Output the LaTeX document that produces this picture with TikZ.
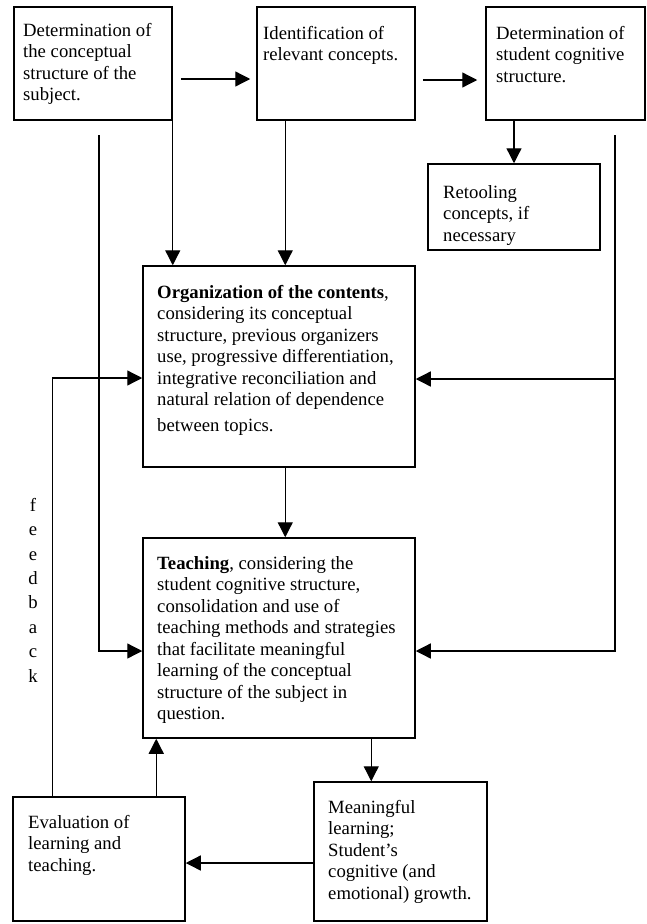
\documentclass[tikz,border=0pt]{standalone}
\usepackage{fontspec}
\setmainfont{Liberation Serif}
\usetikzlibrary{arrows.meta,calc}
\begin{document}
\begin{tikzpicture}[x=1pt,y=-1pt,
  box/.style={draw,line width=1.5pt,rectangle,inner sep=0pt},
  txt/.style={anchor=north west,inner sep=0pt,align=left,font=\fontsize{18.7}{21.5}\selectfont},
  ln/.style={line width=1.3pt},
  arr/.style={line width=1.3pt,-{Triangle[length=15pt,width=15pt]}}]
\useasboundingbox (0,0) rectangle (647,924);
% boxes
\node[box,minimum width=158pt,minimum height=113pt] (b1) at (93,63.5) {};
\node[box,minimum width=158pt,minimum height=113pt] (b2) at (336,63.5) {};
\node[box,minimum width=159pt,minimum height=113pt] (b3) at (565.5,63.5) {};
\node[box,minimum width=172pt,minimum height=86pt] (rt) at (514,207) {};
\node[box,minimum width=272pt,minimum height=201pt] (org) at (279,366.5) {};
\node[box,minimum width=272pt,minimum height=200pt] (tch) at (279,638) {};
\node[box,minimum width=173pt,minimum height=139pt] (mn) at (400.5,851.5) {};
\node[box,minimum width=172pt,minimum height=124pt] (ev) at (99,859) {};
% texts
\node[txt] (b1t) at (23,23) {Determination of\\the conceptual\\structure of the\\subject.};
\node[txt] (b2t) at (263,26) {Identification of\\relevant concepts.};
\node[txt] (b3t) at (496,26) {Determination of\\student cognitive\\structure.};
\node[txt] (rtt) at (443,185) {Retooling\\concepts, if\\necessary};
\node[txt] (orgt) at (157,285) {\textbf{Organization of the contents},\\considering its conceptual\\structure, previous organizers\\use, progressive differentiation,\\integrative reconciliation and\\natural relation of dependence\\[4pt]between topics.};
\node[txt] (tcht) at (157,556) {\textbf{Teaching}, considering the\\student cognitive structure,\\consolidation and use of\\teaching methods and strategies\\that facilitate meaningful\\learning of the conceptual\\structure of the subject in\\question.};
\node[txt] (mnt) at (328,800) {Meaningful\\learning;\\Student’s\\cognitive (and\\emotional) growth.};
\node[txt] (evt) at (28,815) {Evaluation of\\learning and\\teaching.};
\node[anchor=north,inner sep=0pt,align=center,font=\fontsize{18.7}{24.4}\selectfont] (fb) at (33,498) {f\\e\\e\\d\\b\\a\\c\\k};
% top row arrows
\draw[arr] ([shift={(8pt,-15.5pt)}]b1.east) -- ([shift={(-6pt,-15.5pt)}]b2.west);
\draw[arr] ([shift={(7pt,-16.5pt)}]b2.east) -- ([shift={(-8pt,-16.5pt)}]b3.west);
\draw[arr] (rt.north |- b3.south) -- (rt.north);
% down into organization
\draw[arr] (b1.south east) -- (b1.south east |- org.north);
\coordinate (c2) at ([xshift=29pt]b2.south west);
\draw[arr] (c2) -- (c2 |- org.north);
\draw[arr] (c2 |- org.south) -- (c2 |- tch.north);
% side lines
\coordinate (ltop) at (99,135);
\coordinate (rtop) at (615,135);
\draw[arr] (ltop) |- ([yshift=-13pt]tch.west);
\draw[arr] (rtop) |- ([yshift=-13pt]tch.east);
\coordinate (oe) at ([yshift=-12.5pt]org.east);
\draw[arr] (oe -| rtop) -- (oe);
% feedback
\coordinate (ow) at ([yshift=-11.5pt]org.west);
\coordinate (ev1) at ([xshift=40pt]ev.north west);
\draw[arr] (ev1) |- (ow);
\coordinate (ev2) at ([xshift=144pt]ev.north west);
\draw[arr] (ev2) -- (ev2 |- tch.south);
% bottom
\coordinate (tm) at ([xshift=229pt]tch.south west);
\draw[arr] (tm) -- (tm |- mn.north);
\coordinate (me) at ([yshift=-4pt]ev.east);
\draw[arr] (me -| mn.west) -- (me);
\end{tikzpicture}
\end{document}
